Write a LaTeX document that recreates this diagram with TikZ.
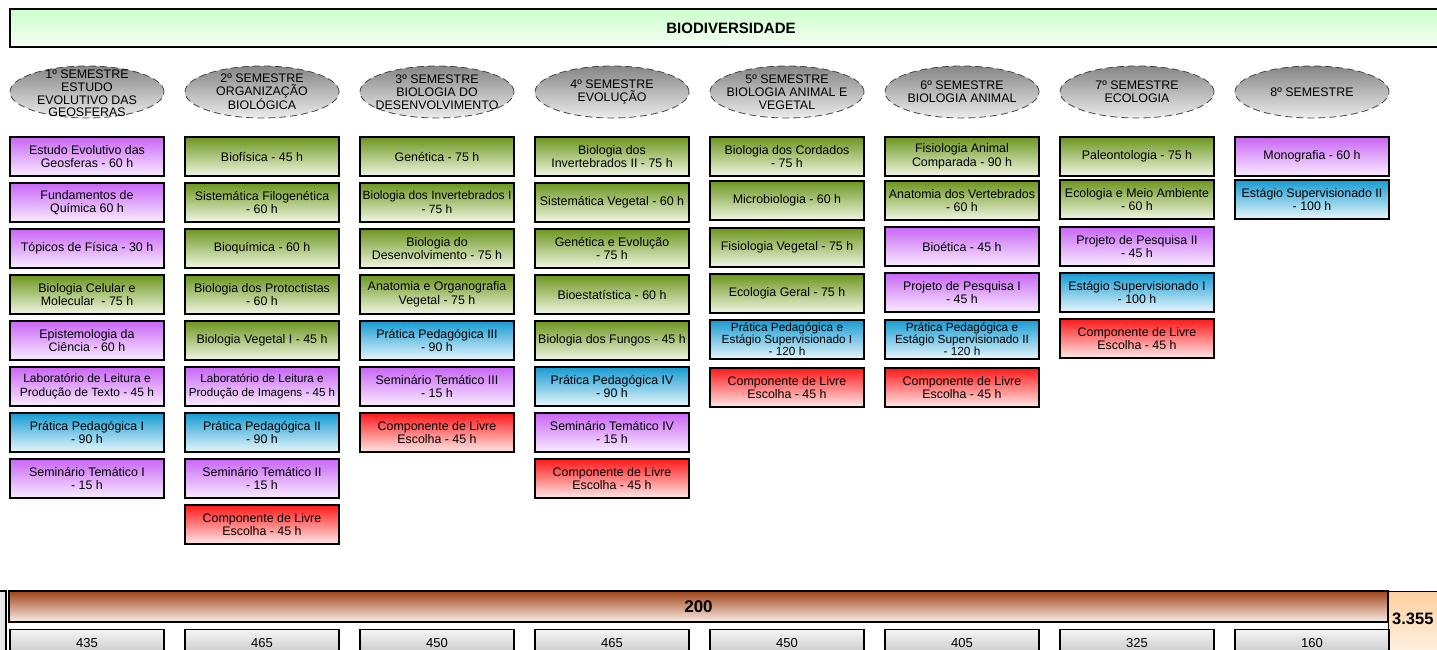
\documentclass[tikz,border=0pt]{standalone}
\usepackage{fontspec}
\setmainfont{Liberation Sans}
\usetikzlibrary{shapes.geometric}

\definecolor{roxatop}{RGB}{200,102,245}
\definecolor{roxabot}{RGB}{250,236,255}
\definecolor{verdetop}{RGB}{108,150,30}
\definecolor{verdebot}{RGB}{242,246,228}
\definecolor{azultop}{RGB}{22,155,210}
\definecolor{azulbot}{RGB}{232,247,252}
\definecolor{livretop}{RGB}{255,25,25}
\definecolor{livrebot}{RGB}{255,232,232}
\definecolor{topotop}{RGB}{204,255,204}
\definecolor{topobot}{RGB}{245,255,245}
\definecolor{marromtop}{RGB}{160,68,24}
\definecolor{marrombot}{RGB}{250,238,232}
\definecolor{pessegotop}{RGB}{253,208,160}
\definecolor{pessegobot}{RGB}{255,246,236}

\begin{document}
\begin{tikzpicture}[x=1pt,y=-1pt,
    disc/.style={draw=black, line width=1.5pt, minimum width=154, minimum height=39,
      inner sep=0pt, align=center, font=\fontsize{12.4}{13.6}\selectfont},
    roxa/.style={disc, top color=roxatop, bottom color=roxabot},
    verde/.style={disc, top color=verdetop, bottom color=verdebot},
    azul/.style={disc, top color=azultop, bottom color=azulbot},
    livre/.style={disc, top color=livretop, bottom color=livrebot},
    semestre/.style={ellipse, draw=gray!55!black, dash pattern=on 7pt off 4pt, line width=0.8pt,
      minimum width=154, minimum height=52, inner sep=0pt, top color=gray!95, bottom color=gray!15},
    semtxt/.style={align=center, inner sep=0pt, font=\fontsize{12.4}{12.8}\selectfont},
    horas/.style={draw=black, line width=1.2pt, minimum width=154, minimum height=26, anchor=north,
      top color=gray!8, bottom color=gray!45, font=\fontsize{13}{15}\selectfont}]
  \useasboundingbox (0,0) rectangle (1437,650);
  \clip (0,0) rectangle (1437,650);

  % Title bar
  \node[draw=black, line width=1.5pt, top color=topotop, bottom color=topobot,
    minimum width=1442, minimum height=38, font=\bfseries\fontsize{15}{17}\selectfont]
    (bio) at (731,28) {BIODIVERSIDADE};

  % Semesters
  \node[semestre] (sem1) at (87,92) {};
  \node[semtxt] (sem1t) at (87,93.5) {1º SEMESTRE\\ESTUDO\\EVOLUTIVO DAS\\GEOSFERAS};
  \node[semestre] (sem2) at (262,92) {};
  \node[semtxt] (sem2t) at (sem2) {2º SEMESTRE\\ORGANIZAÇÃO\\BIOLÓGICA};
  \node[semestre] (sem3) at (437,92) {};
  \node[semtxt] (sem3t) at (sem3) {3º SEMESTRE\\BIOLOGIA DO\\DESENVOLVIMENTO};
  \node[semestre] (sem4) at (612,92) {};
  \node[semtxt] (sem4t) at (sem4) {4º SEMESTRE\\EVOLUÇÃO};
  \node[semestre] (sem5) at (787,92) {};
  \node[semtxt] (sem5t) at (sem5) {5º SEMESTRE\\BIOLOGIA ANIMAL E\\VEGETAL};
  \node[semestre] (sem6) at (962,92) {};
  \node[semtxt] (sem6t) at (sem6) {6º SEMESTRE\\BIOLOGIA ANIMAL};
  \node[semestre] (sem7) at (1137,92) {};
  \node[semtxt] (sem7t) at (sem7) {7º SEMESTRE\\ECOLOGIA};
  \node[semestre] (sem8) at (1312,92) {};
  \node[semtxt] (sem8t) at (sem8) {8º SEMESTRE};

  % 1st semester
  \node[roxa] (d11) at (87,156.5) {Estudo Evolutivo das\\Geosferas - 60 h};
  \node[roxa] (d12) at (87,202.5) {Fundamentos de\\Química 60 h};
  \node[roxa] (d13) at (87,248.5) {Tópicos de Física - 30 h};
  \node[verde] (d14) at (87,294.5) {Biologia Celular e\\Molecular \ - 75 h};
  \node[roxa] (d15) at (87,340.5) {Epistemologia da\\Ciência - 60 h};
  \node[roxa, font=\fontsize{12}{13.6}\selectfont] (d16) at (87,386.5)
    {Laboratório de Leitura e\\Produção de Texto - 45 h};
  \node[azul] (d17) at (87,432.5) {Prática Pedagógica I\\- 90 h};
  \node[roxa] (d18) at (87,478.5) {Seminário Temático I\\- 15 h};

  % 2nd semester
  \node[verde] (d21) at (262,156.5) {Biofísica - 45 h};
  \node[verde] (d22) at (262,202.5) {Sistemática Filogenética\\- 60 h};
  \node[verde] (d23) at (262,248.5) {Bioquímica - 60 h};
  \node[verde] (d24) at (262,294.5) {Biologia dos Protoctistas\\- 60 h};
  \node[verde] (d25) at (262,340.5) {Biologia Vegetal I - 45 h};
  \node[roxa, font=\fontsize{11.6}{13.2}\selectfont] (d26) at (262,386.5)
    {Laboratório de Leitura e\\Produção de Imagens - 45 h};
  \node[azul] (d27) at (262,432.5) {Prática Pedagógica II\\- 90 h};
  \node[roxa] (d28) at (262,478.5) {Seminário Temático II\\- 15 h};
  \node[livre] (d29) at (262,524.5) {Componente de Livre\\Escolha - 45 h};

  % 3rd semester
  \node[verde] (d31) at (437,156.5) {Genética - 75 h};
  \node[verde, font=\fontsize{12}{13.6}\selectfont] (d32) at (437,202.5)
    {Biologia dos Invertebrados I\\- 75 h};
  \node[verde] (d33) at (437,248.5) {Biologia do\\Desenvolvimento - 75 h};
  \node[verde] (d34) at (437,294.5) {Anatomia e Organografia\\Vegetal - 75 h};
  \node[azul] (d35) at (437,340.5) {Prática Pedagógica III\\- 90 h};
  \node[roxa] (d36) at (437,386.5) {Seminário Temático III\\- 15 h};
  \node[livre] (d37) at (437,432.5) {Componente de Livre\\Escolha - 45 h};

  % 4th semester
  \node[verde] (d41) at (612,156.5) {Biologia dos\\Invertebrados II - 75 h};
  \node[verde] (d42) at (612,202.5) {Sistemática Vegetal - 60 h};
  \node[verde] (d43) at (612,248.5) {Genética e Evolução\\- 75 h};
  \node[verde] (d44) at (612,294.5) {Bioestatística - 60 h};
  \node[verde] (d45) at (612,340.5) {Biologia dos Fungos - 45 h};
  \node[azul] (d46) at (612,386.5) {Prática Pedagógica IV\\- 90 h};
  \node[roxa] (d47) at (612,432.5) {Seminário Temático IV\\- 15 h};
  \node[livre] (d48) at (612,478.5) {Componente de Livre\\Escolha - 45 h};

  % 5th semester
  \node[verde] (d51) at (787,156.5) {Biologia dos Cordados\\- 75 h};
  \node[verde] (d52) at (787,200.5) {Microbiologia - 60 h};
  \node[verde] (d53) at (787,247.5) {Fisiologia Vegetal - 75 h};
  \node[verde] (d54) at (787,293.5) {Ecologia Geral - 75 h};
  \node[azul, font=\fontsize{11.8}{12}\selectfont] (d55) at (787,339.5)
    {Prática Pedagógica e\\Estágio Supervisionado I\\- 120 h};
  \node[livre] (d56) at (787,387.5) {Componente de Livre\\Escolha - 45 h};

  % 6th semester
  \node[verde] (d61) at (962,156.5) {Fisiologia Animal\\Comparada - 90 h};
  \node[verde] (d62) at (962,200.5) {Anatomia dos Vertebrados\\- 60 h};
  \node[roxa] (d63) at (962,246.5) {Bioética - 45 h};
  \node[roxa] (d64) at (962,292.5) {Projeto de Pesquisa I\\- 45 h};
  \node[azul, font=\fontsize{11.8}{12}\selectfont] (d65) at (962,339.5)
    {Prática Pedagógica e\\Estágio Supervisionado II\\- 120 h};
  \node[livre] (d66) at (962,387.5) {Componente de Livre\\Escolha - 45 h};

  % 7th semester
  \node[verde] (d71) at (1137,156.5) {Paleontologia - 75 h};
  \node[verde] (d72) at (1137,199.5) {Ecologia e Meio Ambiente\\- 60 h};
  \node[roxa] (d73) at (1137,246.5) {Projeto de Pesquisa II\\- 45 h};
  \node[azul] (d74) at (1137,292.5) {Estágio Supervisionado I\\- 100 h};
  \node[livre] (d75) at (1137,338.5) {Componente de Livre\\Escolha - 45 h};

  % 8th semester
  \node[roxa] (d81) at (1312,156.5) {Monografia - 60 h};
  \node[azul] (d82) at (1312,199.5) {Estágio Supervisionado II\\- 100 h};

  % Totals
  \filldraw[fill=gray!20, line width=1.2pt] (-10,591) rectangle (6,660);
  \node[draw=black, line width=1.5pt, top color=marromtop, bottom color=marrombot,
    minimum width=1379, minimum height=31, font=\bfseries\fontsize{17}{20}\selectfont]
    (compl) at (698.5,606.5) {200};
  \node[draw=black, line width=1pt, top color=pessegotop, bottom color=pessegobot,
    minimum width=80, minimum height=70, anchor=north west] (total) at (1388,591) {};
  \node[anchor=west, inner sep=0pt, font=\bfseries\fontsize{16.5}{20}\selectfont]
    (totalnum) at (1392,619) {3.355};
  \node[horas] (h1) at (87,629) {435};
  \node[horas] (h2) at (262,629) {465};
  \node[horas] (h3) at (437,629) {450};
  \node[horas] (h4) at (612,629) {465};
  \node[horas] (h5) at (787,629) {450};
  \node[horas] (h6) at (962,629) {405};
  \node[horas] (h7) at (1137,629) {325};
  \node[horas] (h8) at (1312,629) {160};
\end{tikzpicture}
\end{document}
